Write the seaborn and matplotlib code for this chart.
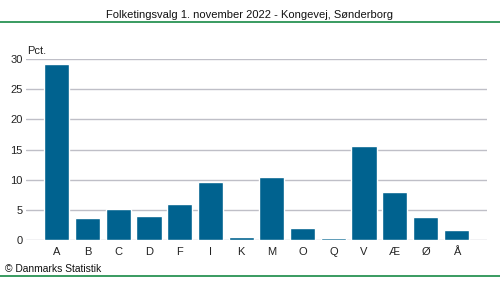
import matplotlib
matplotlib.use("Agg")
import matplotlib.pyplot as plt
import seaborn as sns
import pandas as pd

categories = ["A", "B", "C", "D", "F", "I", "K", "M", "O", "Q", "V", "Æ", "Ø", "Å"]
values = [29.2, 3.65, 5.15, 4.0, 6.0, 9.65, 0.55, 10.45, 2.0, 0.35, 15.6, 8.0, 3.8, 1.65]
yticks = [0, 5, 10, 15, 20, 25, 30]
title = "Folketingsvalg 1. november 2022 - Kongevej, Sønderborg"
ylabel = "Pct."
credit = "© Danmarks Statistik"

sns.set_theme(style="white")
plt.rcParams["font.family"] = ["Liberation Sans", "DejaVu Sans"]

df = pd.DataFrame({"parti": categories, "pct": values})

fig = plt.figure(figsize=(5, 2.82), dpi=100)
ax = fig.add_axes([0.052, 0.149, 0.922, 0.641])
sns.barplot(data=df, x="parti", y="pct", order=categories, color="#00628f",
            saturation=1, width=0.82, ax=ax, zorder=3)
ax.set_xlim(-1, 14)
ax.set_ylim(0, 30)
ax.set_yticks(yticks)
ax.yaxis.grid(True, color="#bfbfc7", linewidth=1, zorder=0)
ax.xaxis.grid(False)
for s in ax.spines.values():
    s.set_visible(False)
ax.set_xlabel("")
ax.set_ylabel("")
ax.tick_params(axis="both", length=0, labelsize=8, colors="#222222")
ax.tick_params(axis="y", pad=2.5)
ax.tick_params(axis="x", pad=5)
ax.text(0.002, 1.02, ylabel, transform=ax.transAxes, fontsize=8, color="#222222",
        ha="left", va="bottom")

fig.text(0.5, 1 - 15 / 282, title, ha="center", va="center", fontsize=8, color="#111111")
fig.add_artist(plt.Line2D([0, 1], [1 - 22 / 282, 1 - 22 / 282], color="#168a45", linewidth=1.2))
fig.add_artist(plt.Line2D([0, 1], [1 - 276 / 282, 1 - 276 / 282], color="#168a45", linewidth=1.2))
fig.text(5 / 500, 1 - 269.5 / 282, credit, ha="left", va="center", fontsize=7.4, color="#111111")

fig.savefig("out.png", dpi=100)
